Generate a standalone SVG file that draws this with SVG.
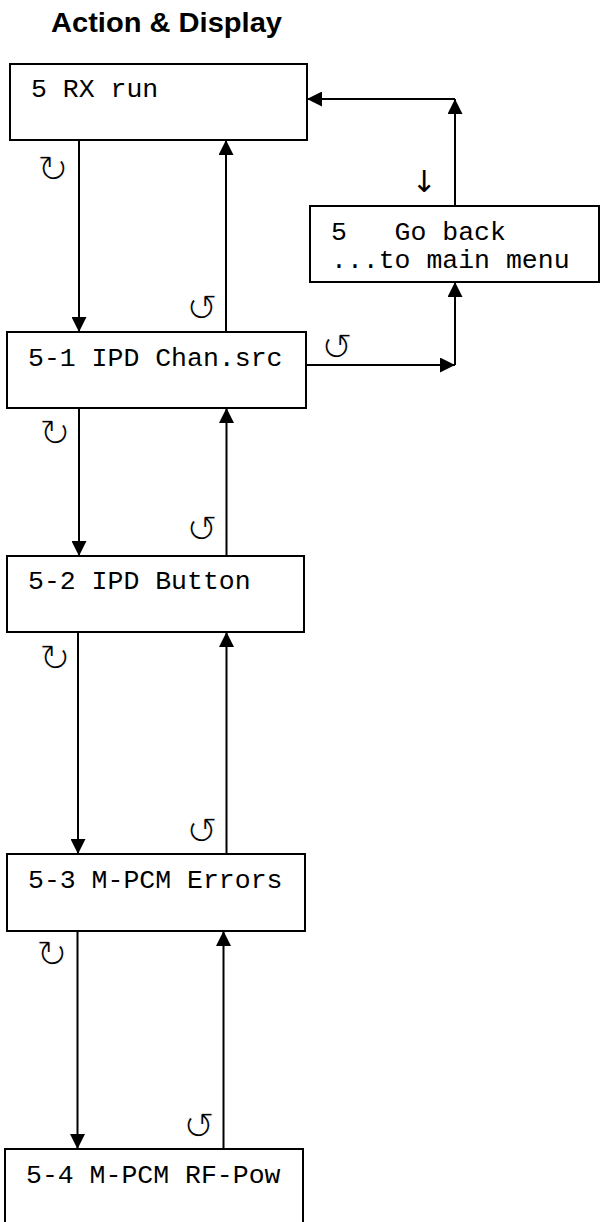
<svg xmlns="http://www.w3.org/2000/svg" width="601" height="1222" viewBox="0 0 601 1222">
<style>
.box{fill:#fff;stroke:#000;stroke-width:2}
.lbl{font-family:"Liberation Mono","Courier New",monospace;font-size:26.5px;fill:#000}
.sym{font-family:"DejaVu Sans",sans-serif;font-size:38px;fill:#000;text-anchor:middle;stroke:#fff;stroke-width:1.2px}
.dn{font-family:"DejaVu Sans",sans-serif;font-size:30px;fill:#000;text-anchor:middle}
.con{fill:none;stroke:#000;stroke-width:2;marker-end:url(#ah)}
.title{font-family:"Liberation Sans",Arial,sans-serif;font-weight:bold;font-size:28px;fill:#000}
</style>
<defs>
<marker id="ah" viewBox="0 0 15 15" refX="15" refY="7.5" markerWidth="15" markerHeight="15" markerUnits="userSpaceOnUse" orient="auto">
<path d="M0,0 L15,7.5 L0,15 z" fill="#000"/>
</marker>
</defs>
<rect width="601" height="1222" fill="#fff"/>
<text class="title" x="51" y="32" textLength="231" lengthAdjust="spacingAndGlyphs">Action &amp; Display</text>

<g id="connectors">
<line class="con" x1="79" y1="140" x2="79" y2="332"/>
<line class="con" x1="226" y1="332" x2="226" y2="140"/>
<line class="con" x1="306" y1="365" x2="455" y2="365"/>
<line class="con" x1="455" y1="365" x2="455" y2="282"/>
<line class="con" x1="455" y1="206" x2="455" y2="99"/>
<line class="con" x1="455" y1="99" x2="307" y2="99"/>
<line class="con" x1="79" y1="408" x2="79" y2="556"/>
<line class="con" x1="226.5" y1="556" x2="226.5" y2="408"/>
<line class="con" x1="78" y1="628" x2="78" y2="854"/>
<line class="con" x1="226.5" y1="854" x2="226.5" y2="632"/>
<line class="con" x1="77.5" y1="931" x2="77.5" y2="1149"/>
<line class="con" x1="223.5" y1="1149" x2="223.5" y2="931"/>
<text class="sym" x="53" y="182">↻</text>
<text class="sym" x="202" y="321">↺</text>
<text class="sym" x="337" y="360">↺</text>
<text class="dn" x="424" y="192">↓</text>
<text class="sym" x="55" y="446">↻</text>
<text class="sym" x="202" y="542">↺</text>
<text class="sym" x="55" y="671">↻</text>
<text class="sym" x="202" y="844">↺</text>
<text class="sym" x="52" y="967">↻</text>
<text class="sym" x="199" y="1139">↺</text>
</g>

<g id="n0">
<rect class="box" x="10" y="64" width="297" height="76"/>
<text class="lbl" x="31" y="97">5 RX run</text>
</g>
<g id="n5">
<rect class="box" x="310" y="206" width="289" height="76"/>
<text class="lbl" x="331" y="240" xml:space="preserve">5   Go back</text>
<text class="lbl" x="331" y="268">...to main menu</text>
</g>
<g id="n1">
<rect class="box" x="7" y="332" width="299" height="76"/>
<text class="lbl" x="28" y="366">5-1 IPD Chan.src</text>
</g>
<g id="n2">
<rect class="box" x="7" y="556" width="297" height="76"/>
<text class="lbl" x="28" y="589">5-2 IPD Button</text>
</g>
<g id="n3">
<rect class="box" x="7" y="854" width="298" height="77"/>
<text class="lbl" x="28" y="888">5-3 M-PCM Errors</text>
</g>
<g id="n4">
<rect class="box" x="5" y="1149" width="298" height="90"/>
<text class="lbl" x="26" y="1183">5-4 M-PCM RF-Pow</text>
</g>
</svg>
